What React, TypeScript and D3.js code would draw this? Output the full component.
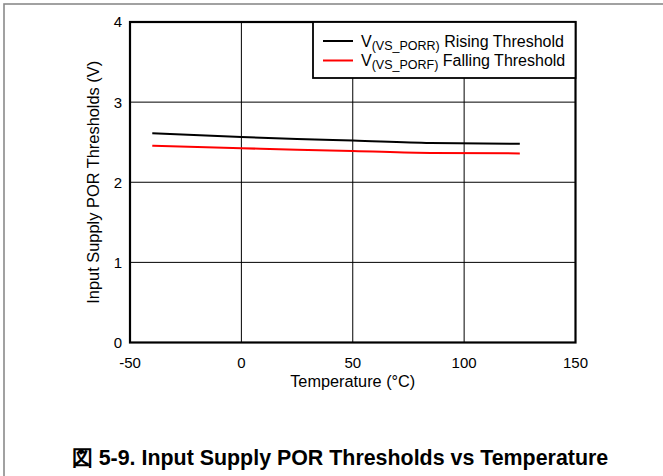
import React from "react";
import * as d3 from "d3";

const temps = [-40, 0, 25, 50, 85, 125];
const rising = [2.61, 2.565, 2.54, 2.52, 2.49, 2.48];
const falling = [2.455, 2.425, 2.405, 2.39, 2.365, 2.36];
const xTicks = [-50, 0, 50, 100, 150];
const yTicks = [0, 1, 2, 3, 4];
const seriesNames = ["Rising Threshold", "Falling Threshold"];
const seriesSubs = ["(VS_PORR)", "(VS_PORF)"];
const seriesColors = ["#000000", "#ff0000"];

const W = 663;
const H = 476;
const left = 130, right = 575.5, top = 22, bottom = 342.5;
const FONT = "Liberation Sans, Arial, Helvetica, sans-serif";

export default function App() {
  const x = d3.scaleLinear().domain([-50, 150]).range([left, right]);
  const y = d3.scaleLinear().domain([0, 4]).range([bottom, top]);
  const line = d3
    .line<[number, number]>()
    .x((d) => x(d[0]))
    .y((d) => y(d[1]))
    .curve(d3.curveMonotoneX);
  const series = [rising, falling];

  return (
    <svg
      width={W}
      height={H}
      style={{ position: "absolute", left: 0, top: 0, background: "#fff" }}
      fontFamily={FONT}
    >
      <rect x={0} y={0} width={W} height={H} fill="#fff" />
      <rect x={4} y={4} width={W + 10} height={H + 10} fill="none" stroke="#8a8a8a" strokeWidth={1.6} />
      {/* grid */}
      {xTicks.slice(1, -1).map((t) => (
        <line key={"gx" + t} x1={x(t)} x2={x(t)} y1={top} y2={bottom} stroke="#000" strokeWidth={1} />
      ))}
      {yTicks.slice(1, -1).map((t) => (
        <line key={"gy" + t} x1={left} x2={right} y1={y(t)} y2={y(t)} stroke="#000" strokeWidth={1} />
      ))}
      {/* series */}
      {series.map((s, i) => (
        <path
          key={"s" + i}
          d={line(temps.map((t, j) => [t, s[j]] as [number, number])) || ""}
          fill="none"
          stroke={seriesColors[i]}
          strokeWidth={2}
        />
      ))}
      {/* frame */}
      <rect x={left} y={top} width={right - left} height={bottom - top} fill="none" stroke="#000" strokeWidth={2.2} />
      {/* ticks */}
      {xTicks.map((t) => (
        <text key={"xt" + t} x={x(t)} y={368} textAnchor="middle" fontSize={15}>
          {t}
        </text>
      ))}
      {yTicks.map((t) => (
        <text key={"yt" + t} x={122} y={y(t)} dy="0.36em" textAnchor="end" fontSize={15}>
          {t}
        </text>
      ))}
      <text x={(left + right) / 2} y={387} textAnchor="middle" fontSize={16.3}>
        Temperature (°C)
      </text>
      <text transform={`translate(99, ${(top + bottom) / 2}) rotate(-90)`} textAnchor="middle" fontSize={16.4}>
        Input Supply POR Thresholds (V)
      </text>
      {/* legend */}
      <rect x={313} y={top} width={right - 313} height={78 - top} fill="#fff" stroke="#000" strokeWidth={1.8} />
      {seriesNames.map((n, i) => (
        <g key={"lg" + i}>
          <line x1={323} x2={353} y1={41 + i * 19.5} y2={41 + i * 19.5} stroke={seriesColors[i]} strokeWidth={2} />
          <text x={361} y={46.5 + i * 19.5} fontSize={16}>
            V
            <tspan fontSize={12.5} dy={3}>{seriesSubs[i]}</tspan>
            <tspan dy={-3}> {n}</tspan>
          </text>
        </g>
      ))}
      <text x={340} y={465} textAnchor="middle" fontSize={21.4} fontWeight="bold">
        図 5-9. Input Supply POR Thresholds vs Temperature
      </text>
    </svg>
  );
}
